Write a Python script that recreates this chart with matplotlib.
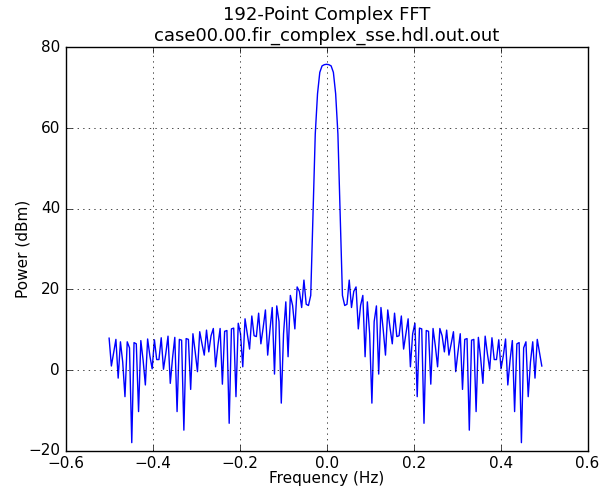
import numpy as np
import matplotlib
matplotlib.use('Agg')
import matplotlib.pyplot as plt

plt.style.use('classic')

n_points = 192
title = '192-Point Complex FFT\ncase00.00.fir_complex_sse.hdl.out.out'

# frequency bins, fftshift order
freq = np.arange(-n_points // 2, n_points // 2) / float(n_points)

# power (dBm), bins -96 .. 95
power = [
    7.9, 1.0, 4.3, 7.6, -2.0, 7.0, 2.0, -6.6, 7.0, 5.5,
    -18.0, 6.8, 6.5, -10.3, 7.3, 2.5, -3.7, 7.7, 3.5, 0.3,
    7.5, 2.6, 2.6, 8.0, 0.2, 4.0, 8.4, -3.3, 3.0, 8.1,
    -10.3, 7.6, 7.4, -14.9, 7.8, 7.6, -4.8, 9.0, 4.5, -0.4,
    9.5, 6.5, 3.7, 9.9, 4.5, 8.5, 10.3, 0.8, 6.0, 10.3,
    -3.5, 9.6, 9.8, -13.2, 10.2, 10.4, -6.6, 11.6, 9.0, 0.8,
    12.7, 9.0, 5.2, 13.4, 8.5, 8.3, 14.1, 6.5, 10.5, 14.9,
    3.7, 10.0, 15.5, -1.0, 15.9, 12.0, -8.2, 9.0, 16.9, 3.3,
    18.5, 16.0, 10.2, 20.6, 19.5, 15.5, 22.3, 16.3, 16.0, 18.5,
    38.5, 58.5, 68.5, 73.8, 75.4, 75.7, 75.8, 75.7, 75.4, 73.8,
    68.5, 58.5, 38.5, 18.5, 16.0, 16.3, 22.3, 15.5, 19.5, 20.6,
    10.2, 16.0, 18.5, 3.3, 16.9, 9.0, -8.2, 12.0, 15.9, -1.0,
    15.5, 10.0, 3.7, 14.9, 10.5, 6.5, 14.1, 8.3, 8.5, 13.4,
    5.2, 9.0, 12.7, 0.8, 9.0, 11.6, -6.6, 10.4, 10.2, -13.2,
    9.8, 9.6, -3.5, 10.3, 6.0, 0.8, 10.3, 8.5, 4.5, 9.9,
    3.7, 6.5, 9.5, -0.4, 4.5, 9.0, -4.8, 7.6, 7.8, -14.9,
    7.4, 7.6, -10.3, 8.1, 3.0, -3.3, 8.4, 4.0, 0.2, 8.0,
    2.6, 2.6, 7.5, 0.3, 3.5, 7.7, -3.7, 2.5, 7.3, -10.3,
    6.5, 6.8, -18.0, 5.5, 7.0, -6.6, 2.0, 7.0, -2.0, 7.6,
    4.3, 1.0,
]

fig = plt.figure(figsize=(6.02, 4.88), dpi=100, facecolor='w')
ax = fig.add_axes([0.109, 0.0764, 0.867, 0.8266])

ax.plot(freq, power, 'b-', linewidth=1.0)

ax.set_xlim(-0.6, 0.6)
ax.set_ylim(-20, 80)
ax.set_xticks(np.arange(-0.6, 0.61, 0.2))
ax.set_yticks(np.arange(-20, 81, 20))
ax.grid(True)

ax.set_title(title, fontsize=13)
ax.set_xlabel('Frequency (Hz)', fontsize=11, labelpad=0)
ax.set_ylabel('Power (dBm)', fontsize=11, labelpad=-2)
ax.tick_params(labelsize=11)
ax.tick_params(axis='x', pad=4)

fig.savefig('out.png', dpi=100, facecolor='w')
